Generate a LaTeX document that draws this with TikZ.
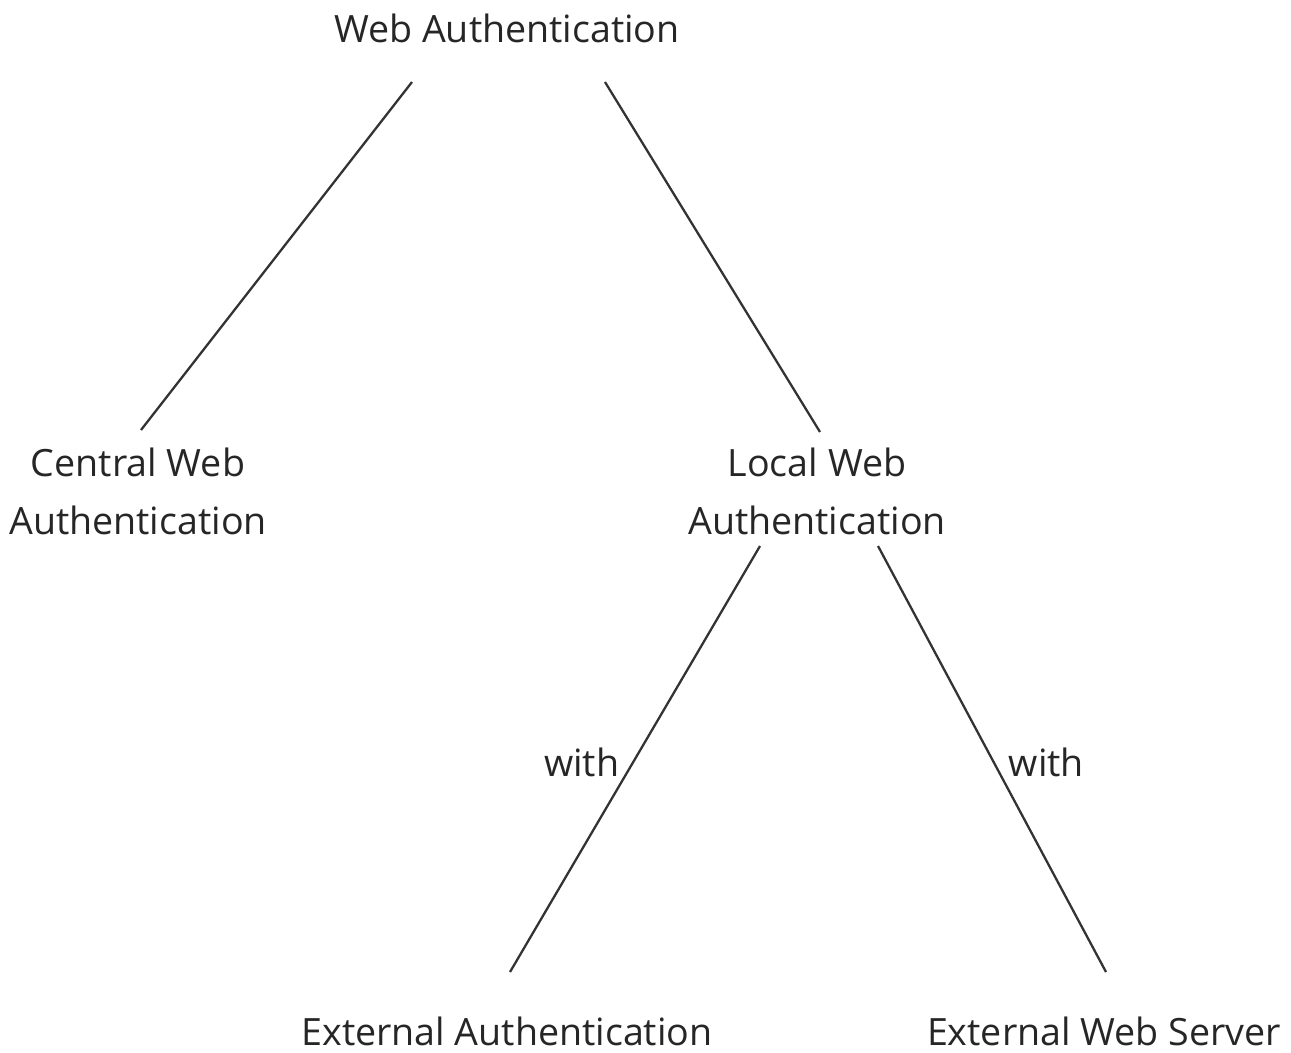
\documentclass[tikz,border=0pt]{standalone}
\usepackage{fontspec}
\setmainfont{Open Sans}
\usetikzlibrary{positioning,calc}
\begin{document}
\begin{tikzpicture}[
    x=0.02cm, y=-0.02cm,
    every node/.style={font=\fontsize{21.4}{33}\selectfont, text=black!85, inner sep=0pt},
    topic/.style={align=center},
    branch/.style={draw=black!80, line width=1.3pt},
    withlabel/.style={font=\fontsize{21.4}{24}\selectfont}
  ]
  \useasboundingbox (0,0) rectangle (1291,1052);

  \node[topic] (web) at (507,28) {Web Authentication};
  \node[topic] (central) at (138,491) {Central Web\\Authentication};
  \node[topic] (local) at (817,491) {Local Web\\Authentication};
  \node (extauth) at (507,1031) {External Authentication};
  \node (extweb) at (1104,1031) {External Web Server};

  \draw[branch] ([shift={(-95,54)}]web.center) -- ([shift={(3,-61)}]central.center);
  \draw[branch] ([shift={(98,54)}]web.center) -- ([shift={(3,-59)}]local.center);

  \draw[branch] ([shift={(-57,55)}]local.center) -- ([shift={(3,-59)}]extauth.center)
    node[withlabel, pos=0.507, left=0.26cm] (with1) {with};
  \draw[branch] ([shift={(61,55)}]local.center) -- ([shift={(2,-59)}]extweb.center)
    node[withlabel, pos=0.507, right=0.28cm] (with2) {with};

\end{tikzpicture}
\end{document}
